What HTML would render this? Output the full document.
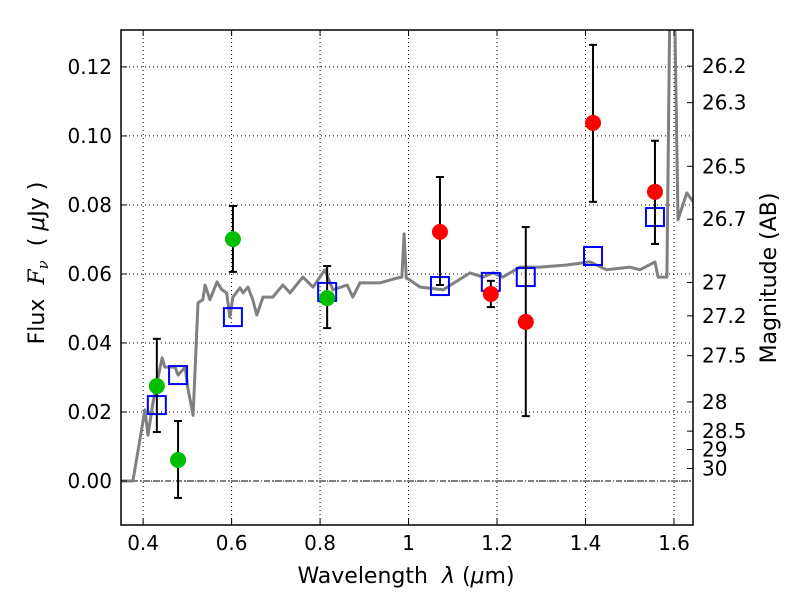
<!DOCTYPE html>
<html><head><meta charset="utf-8"><style>
body{margin:0;background:#fff}
svg text{font-family:"DejaVu Sans","Liberation Sans",sans-serif;font-size:20px;fill:#000}
</style></head><body>
<svg id="chart" width="800" height="600" viewBox="0 0 800 600" xmlns="http://www.w3.org/2000/svg">
<g id="grid"></g>
<g id="spec"></g>
<g id="marks"></g>
<g id="axes"></g>
</svg>
<script>
const specX=[0.35,0.377,0.404,0.411,0.422,0.443,0.449,0.472,0.479,0.495,0.501,0.513,0.524,0.535,0.54,0.551,0.567,0.578,0.589,0.596,0.603,0.619,0.626,0.637,0.648,0.657,0.671,0.693,0.716,0.732,0.761,0.784,0.811,0.829,0.861,0.874,0.89,0.935,0.974,0.985,0.99,0.995,1.0,1.026,1.078,1.139,1.168,1.191,1.213,1.252,1.297,1.358,1.41,1.448,1.5,1.523,1.557,1.564,1.584,1.59,1.602,1.609,1.629,1.643];
const specY=[0,0,0.0206,0.0133,0.0226,0.0357,0.033,0.033,0.0307,0.033,0.027,0.019,0.0516,0.0525,0.0568,0.0525,0.0577,0.0554,0.0545,0.0475,0.0533,0.056,0.0545,0.0562,0.0525,0.0481,0.0533,0.0533,0.0568,0.0545,0.0591,0.0562,0.0612,0.0554,0.0568,0.0533,0.0574,0.0574,0.0588,0.0591,0.0716,0.0588,0.0585,0.0562,0.0554,0.0603,0.0591,0.0603,0.0591,0.062,0.062,0.0626,0.0635,0.0612,0.062,0.0612,0.0635,0.0591,0.0591,0.15,0.15,0.0757,0.0835,0.081];
const greenX=[0.431,0.479,0.603,0.816];
const greenY=[0.0275,0.0061,0.0701,0.053];
const greenLo=[0.0142,-0.0049,0.0606,0.0443];
const greenHi=[0.0412,0.0174,0.0797,0.0623];
const redX=[1.071,1.186,1.265,1.417,1.557];
const redY=[0.0722,0.0542,0.0461,0.1038,0.0838];
const redLo=[0.0568,0.0504,0.0188,0.0809,0.0687];
const redHi=[0.0881,0.058,0.0736,0.1264,0.0986];
const blueX=[0.431,0.479,0.603,0.816,1.071,1.186,1.265,1.417,1.557];
const blueY=[0.022,0.0307,0.0475,0.0548,0.0565,0.0577,0.0591,0.0652,0.0765];
const xTicks=[0.4,0.6,0.8,1.0,1.2,1.4,1.6];
const xTickLabels=["0.4","0.6","0.8","1","1.2","1.4","1.6"];
const yTicks=[0,0.02,0.04,0.06,0.08,0.10,0.12];
const yTickLabels=["0.00","0.02","0.04","0.06","0.08","0.10","0.12"];
const magTicks=[26.2,26.3,26.5,26.7,27,27.2,27.5,28,28.5,29,30];
const magTickLabels=["26.2","26.3","26.5","26.7","27","27.2","27.5","28","28.5","29","30"];

const L=121,R=693,T=30,B=525,X0=0.35,X1=1.643,Y0=-0.01275,Y1=0.1307;
const sx=v=>L+(v-X0)/(X1-X0)*(R-L);
const sy=v=>B-(v-Y0)/(Y1-Y0)*(B-T);
const NS="http://www.w3.org/2000/svg";
function mk(tag,attrs,parent){const e=document.createElementNS(NS,tag);for(const k in attrs)e.setAttribute(k,attrs[k]);parent.appendChild(e);return e;}
const grid=document.getElementById('grid'),spec=document.getElementById('spec'),marks=document.getElementById('marks'),axes=document.getElementById('axes');

xTicks.forEach((v,i)=>{
 const g=mk('line',{x1:sx(v),x2:sx(v),y1:T,y2:B,stroke:'#000','stroke-width':1,'stroke-dasharray':'1,3'},grid);
 
 
 mk('line',{x1:sx(v),x2:sx(v),y1:B,y2:B-6,stroke:'#000'},axes);
 mk('line',{x1:sx(v),x2:sx(v),y1:T,y2:T+6,stroke:'#000'},axes);
 const t=mk('text',{x:sx(v),y:B+25,'text-anchor':'middle'},axes);t.textContent=xTickLabels[i];
 
 
});
yTicks.forEach((v,i)=>{
 const g=mk('line',{x1:L,x2:R,y1:sy(v),y2:sy(v),stroke:'#000','stroke-width':1,'stroke-dasharray':'1,3'},grid);
 
 
 mk('line',{x1:L,x2:L+6,y1:sy(v),y2:sy(v),stroke:'#000'},axes);
 const t=mk('text',{x:L-9,y:sy(v)+7,'text-anchor':'end'},axes);t.textContent=yTickLabels[i];
 
 
});
const zl=mk('line',{x1:L,x2:R,y1:sy(0),y2:sy(0),stroke:'#000','stroke-width':1,'stroke-dasharray':'6,2,1,2'},grid);


magTicks.forEach((m,i)=>{
 const f=Math.pow(10,-0.4*(m-23.9));const y=sy(f);
 mk('line',{x1:R,x2:R-6,y1:y,y2:y,stroke:'#000'},axes);
 const t=mk('text',{x:R+9,y:y+7,'text-anchor':'start'},axes);t.textContent=magTickLabels[i];
 
 
});

let d='';specX.forEach((v,i)=>{d+=(i?'L':'M')+sx(v).toFixed(1)+','+Math.max(sy(specY[i]),T-5).toFixed(1);});
const sp=mk('path',{d:d,fill:'none',stroke:'#808080','stroke-width':3,'stroke-linejoin':'round'},spec);


document.getElementById('spec').setAttribute('clip-path','url(#clip)');
const cp=mk('clipPath',{id:'clip'},document.getElementById('chart'));mk('rect',{x:L,y:T,width:R-L,height:B-T},cp);

function errbar(x,lo,hi){
 const eb=mk('g',{},marks);
 
 
 mk('line',{x1:sx(x),x2:sx(x),y1:sy(lo),y2:sy(hi),stroke:'#000','stroke-width':2},eb);
 mk('line',{x1:sx(x)-4,x2:sx(x)+4,y1:sy(lo),y2:sy(lo),stroke:'#000','stroke-width':2},eb);
 mk('line',{x1:sx(x)-4,x2:sx(x)+4,y1:sy(hi),y2:sy(hi),stroke:'#000','stroke-width':2},eb);
}
blueX.forEach((v,i)=>{
 const r=mk('rect',{x:sx(v)-9,y:sy(blueY[i])-9,width:18,height:18,fill:'none',stroke:'#0000ff','stroke-width':2},marks);
 
 
});
greenX.forEach((v,i)=>{
 errbar(v,greenLo[i],greenHi[i]);
 const c=mk('circle',{cx:sx(v),cy:sy(greenY[i]),r:8,fill:'#00bf00'},marks);
 
 
});
redX.forEach((v,i)=>{
 errbar(v,redLo[i],redHi[i]);
 const c=mk('circle',{cx:sx(v),cy:sy(redY[i]),r:8,fill:'#ff0000'},marks);
 
 
});
const fr=mk('rect',{x:L,y:T,width:R-L,height:B-T,fill:'none',stroke:'#000','stroke-width':1.5},axes);


</script>
<svg style="position:absolute;left:0;top:0" width="800" height="600">
<text x="406" y="583" text-anchor="middle" style="font-family:'DejaVu Sans',sans-serif;font-size:22px">Wavelength&#160;&#160;<tspan font-style="italic">λ</tspan>&#160;(<tspan font-style="italic">μ</tspan>m)</text>
<text transform="translate(44,263) rotate(-90)" text-anchor="middle" style="font-family:'DejaVu Sans',sans-serif;font-size:22px">Flux&#160;&#160;<tspan font-family="DejaVu Serif" font-style="italic">F</tspan><tspan font-family="DejaVu Serif" font-style="italic" font-size="15" dy="4">ν</tspan><tspan dy="-4">&#160;&#160;(&#160;</tspan><tspan font-style="italic">μ</tspan>Jy&#160;)</text>
<text transform="translate(776,278) rotate(-90)" text-anchor="middle" style="font-family:'DejaVu Sans',sans-serif;font-size:22px">Magnitude (AB)</text>
</svg>
</body></html>
